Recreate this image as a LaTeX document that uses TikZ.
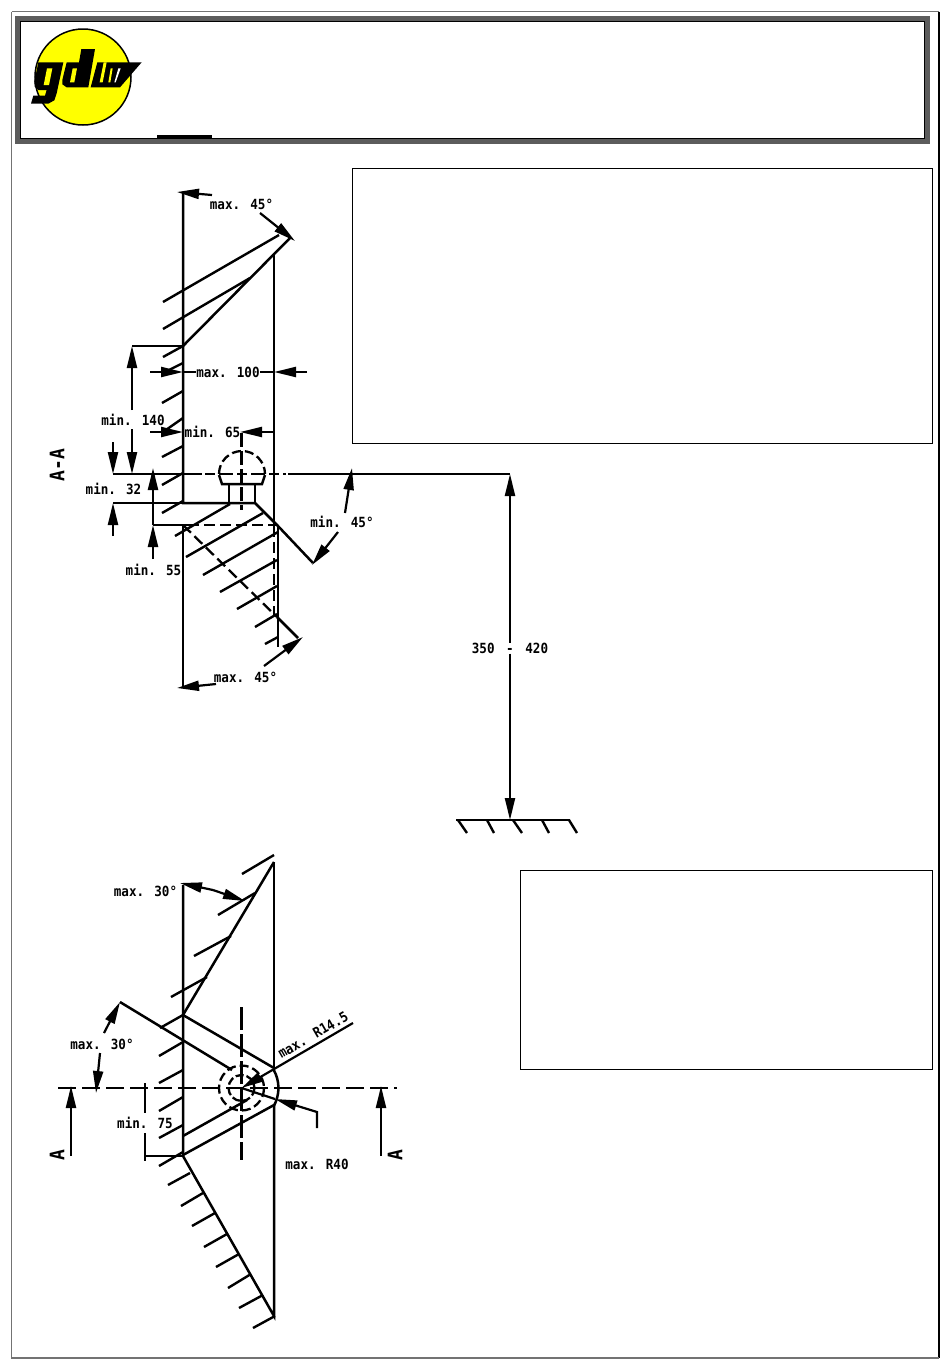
\documentclass[tikz,border=0pt]{standalone}
\usepackage{fontspec}
\newfontfamily\cadfont{DejaVu Sans Mono}[FakeStretch=0.9]
\usetikzlibrary{arrows.meta,positioning,calc}
\definecolor{figframe}{gray}{0.45}
\definecolor{figband}{gray}{0.36}
\definecolor{figyellow}{RGB}{255,255,0}
\tikzset{
  part/.style={line width=2.5pt, draw=black},
  hatch/.style={line width=2.4pt, draw=black},
  dimline/.style={line width=2.2pt, draw=black, -{Triangle[length=22pt,width=10pt]}},
  dimbare/.style={line width=2.2pt, draw=black},
  dimtext/.style={font=\cadfont\bfseries\fontsize{14}{14}\selectfont, inner sep=0pt},
  marktext/.style={font=\cadfont\bfseries\fontsize{20}{20}\selectfont, inner sep=0pt, rotate=90},
  hidden/.style={line width=2.3pt, draw=black, dash pattern=on 11pt off 5pt},
  centre/.style={line width=2.3pt, draw=black, dash pattern=on 18pt off 6pt},
  infobox/.style={line width=1pt, draw=black}
}
\begin{document}
\begin{tikzpicture}[x=1pt,y=-1pt]
  \useasboundingbox (0,0) rectangle (950,1369);

  % Sheet frame and title band
  \draw[line width=1.2pt, draw=figframe] (11.5,11.5) -- (939,11.5);
  \draw[line width=1.2pt, draw=black] (939,11.5) -- (939,1358);
  \draw[line width=1.2pt, draw=figframe] (939,1358) -- (11.5,1358) -- (11.5,11.5);
  \draw[line width=5pt, draw=figband] (17.5,18.5) rectangle (927.5,141.5);
  \draw[line width=0.8pt, draw=black] (20.5,21.5) rectangle (924.5,138.5);
  \fill[black] (157,135) rectangle (212,139);

  % Logo
  \fill[figyellow, draw=black, line width=1.5pt] (83,77) circle (48);
  \begin{scope}[shift={(25,25)},scale=1/3]
    \fill[black] (40,112) -- (115,112) -- (95,205) -- (88,226) -- (70,236) -- (18,236)
      -- (25,212) -- (60,212) -- (65,195) -- (40,195) -- (29,185) -- (28,170) -- cycle;
    \fill[black] (125,112) -- (162,112) -- (169,72) -- (210,72) -- (190,187)
      -- (125,187) -- (112,178) -- (112,165) -- cycle;
    \fill[black] (217,112) -- (350,112) -- (285,187) -- (197,187) -- cycle;
    \fill[figyellow] (66,130) -- (82,130) -- (72,180) -- (56,180) -- cycle;
    \fill[figyellow] (143,130) -- (156,130) -- (148,172) -- (135,172) -- cycle;
    \fill[figyellow] (236,112) -- (245,112) -- (233,172) -- (224,172) -- cycle;
    \fill[figyellow] (257,130) -- (263,130) -- (256,172) -- (250,172) -- cycle;
    \fill[white] (280,130) -- (287,130) -- (272,172) -- (268,172) -- cycle;
  \end{scope}

  % Text boxes
  \draw[infobox] (352.5,168.5) rectangle (932.5,443.5);
  \draw[infobox] (520.5,870.5) rectangle (932.5,1069.5);

  % Section A-A, outline
  \draw[part] (183,193) -- (183,503) -- (255,503) -- (278,526) -- (313,563);
  \draw[part] (183,346) -- (290,238);
  \draw[part] (274,255) -- (274,526);
  \draw[part] (278,526) -- (278,647);
  \draw[part] (183,525) -- (183,688);
  \draw[hidden] (274,526) -- (274,616);
  \draw[hidden] (183,525) -- (277,617);
  \draw[part] (277,617) -- (298,638);

  % Section A-A, hatching
  \foreach \xa/\ya/\xb/\yb in {163/302/279/235, 163/329/250/278, 163/357/183/346,
      163/373/183/363, 162/403/183/391, 163/432/183/418, 162/457/183/446,
      162/485/183/473, 162/513/183/501, 175/536/230/504, 186/557/263/513,
      203/575/278/532, 220/592/277/560, 237/609/277/586, 255/627/277/614,
      265/644/278/637}
    \draw[hatch] (\xa,\ya) -- (\xb,\yb);

  % Ball head
  \draw[hidden, dash pattern=on 9pt off 4pt] (219,474) arc[start angle=180, end angle=360, radius=23];
  \draw[part] (219,475) -- (222,484) -- (262,484) -- (265,475);
  \draw[part] (229,484) -- (229,503);
  \draw[part] (255,484) -- (255,503);
  \draw[centre, dash pattern=on 14pt off 4pt] (241.5,433) -- (241.5,510);

  % Height line
  \coordinate (headtop) at (510,474);
  \coordinate (floor) at (510,820);
  \draw[dimbare] (113,474) -- (202,474);
  \draw[centre, dash pattern=on 10pt off 4pt on 14pt off 4pt] (205,474) -- (286,474);
  \draw[dimbare] (288,474) -- (headtop);
  \node[dimtext, fill=white, inner xsep=1pt] (range) at (510,648) {350\hspace{4pt} - \hspace{4pt}420};
  \draw[dimline] (range) -- (headtop);
  \draw[dimline] (range) -- (floor);
  \draw[part] (456,820) -- (570,820);
  \foreach \xa/\xb in {458/467, 487/494, 513/522, 542/549, 569/577}
    \draw[hatch] (\xa,820) -- (\xb,833);

  % Section A-A, dimensions
  \draw[dimline] (212,195) -- (177,192);
  \draw[dimline] (260,213) -- (295,241);
  \node[dimtext] (maxtop) at (241.5,204) {max. 45°};
  \node[dimtext] (maxwidth) at (228,372) {max. 100};
  \draw[dimline] (150,372) -- (183,372);
  \draw[dimbare] (183,372) -- (maxwidth.west);
  \draw[dimline] (307,372) -- (274,372);
  \draw[dimbare] (274,372) -- (maxwidth.east);
  \node[dimtext] (minwidth) at (212.5,432) {min. 65};
  \draw[dimline] (150,432) -- (183,432);
  \draw[dimline] (274,432) -- (240,432);
  \draw[dimbare] (132,346) -- (183,346);
  \node[dimtext] (minheight) at (133,420) {min. 140};
  \draw[dimline] (132,410) -- (132,346);
  \draw[dimline] (132,429) -- (132,474);
  \node[dimtext] (minneck) at (113.5,489) {min. 32};
  \draw[dimline] (113,442) -- (113,474);
  \draw[dimline] (113,536) -- (113,503);
  \draw[dimbare] (113,503) -- (183,503);
  \node[dimtext] (minball) at (153.5,570) {min. 55};
  \draw[dimline] (153,525) -- (153,468);
  \draw[dimline] (153,559) -- (153,525);
  \draw[dimbare] (153,525) -- (188,525);
  \draw[hidden] (188,525) -- (278,525);
  \node[dimtext] (minflank) at (342,522) {min. 45°};
  \draw[dimline] (345,513) -- (352,468);
  \draw[dimline] (338,532) -- (312,565);
  \node[dimtext] (maxlow) at (245.5,677) {max. 45°};
  \draw[dimline] (216,684) -- (177,688);
  \draw[dimline] (264,666) -- (303,637);
  \node[marktext] (secname) at (57,465) {A-A};

  % Plan view, outline
  \draw[part] (183,885) -- (183,1156) -- (274,1316) -- (274,1105);
  \draw[part] (274,862) -- (274,1068);
  \draw[part] (183,1015) -- (274,862);
  \draw[part] (183,1015) -- (274,1068);
  \draw[part] (120,1002) -- (232,1070);
  \draw[part] (183,1155) -- (274,1105);
  \draw[part] (183,1136) -- (247,1100);

  % Plan view, hatching
  \foreach \xa/\ya/\xb/\yb in {242/874/274/855, 218/915/255/893, 194/956/231/936,
      171/997/207/977, 160/1028/183/1015, 159/1056/183/1042, 159/1083/183/1070,
      159/1111/183/1097, 159/1138/183/1125, 159/1166/183/1152, 168/1185/190/1173,
      181/1206/203/1193, 192/1226/215/1213, 204/1247/227/1234, 216/1267/239/1254,
      228/1288/251/1274, 239/1308/263/1295, 253/1328/275/1316}
    \draw[hatch] (\xa,\ya) -- (\xb,\yb);

  % Plan view, head circles
  \coordinate (centrept) at (241.5,1088);
  \draw[hidden, dash pattern=on 8pt off 3pt] (centrept) circle (13);
  \draw[hidden, dash pattern=on 9pt off 4pt] (centrept) circle (22.5);
  \draw[part] (273.5,1069.5) arc[start angle=-30, end angle=30, radius=37];
  \draw[centre] (58,1088) -- (397,1088);
  \draw[centre, dash pattern=on 23pt off 4pt] (241.5,1007) -- (241.5,1160);

  % Plan view, dimensions
  \node[dimtext] (maxupper) at (145.5,891) {max. 30°};
  \draw[dimline] (213,890) -- (180,883);
  \draw[dimline] (213,890) -- (245,901);
  \node[dimtext] (maxleft) at (102,1044) {max. 30°};
  \draw[dimline] (104,1033) -- (120,1002);
  \draw[dimline] (100,1053) -- (96,1093);
  \node[dimtext, rotate=30] (maxsmall) at (313,1035) {max. R14.5};
  \draw[dimline] (353,1023) -- (centrept);
  \node[dimtext] (maxlarge) at (317,1164) {max. R40};
  \draw[dimbare] (275,1099) -- (centrept);
  \draw[dimline] (317,1128) -- (317,1112) -- (275,1099);
  \node[dimtext] (minfoot) at (145,1123) {min. 75};
  \draw[dimbare] (145,1083) -- (145,1113);
  \draw[dimbare] (145,1133) -- (145,1161);
  \draw[dimbare] (145,1156) -- (183,1156);

  % Section marks
  \node[marktext] (marka) at (57,1155) {A};
  \node[marktext] (markb) at (395,1155) {A};
  \draw[dimline] (71,1156) -- (71,1086);
  \draw[dimline] (381,1156) -- (381,1086);

\end{tikzpicture}
\end{document}
